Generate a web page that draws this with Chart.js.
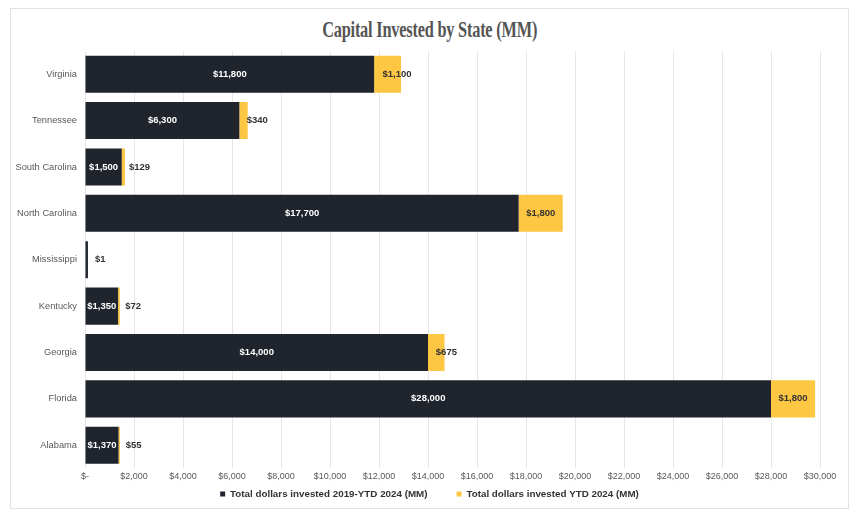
<!DOCTYPE html>
<html>
<head>
<meta charset="utf-8">
<script src="https://cdn.jsdelivr.net/npm/chart.js@4"></script>
<style>
  html, body { margin: 0; padding: 0; background: #fff; }
  #frame { position: absolute; left: 10px; top: 8px; width: 837px; height: 499px; border: 1px solid #e2e2e2; }
  #title { position: absolute; left: 0; top: 17px; width: 859px; text-align: center;
           font-family: "Liberation Serif", serif; font-weight: bold; font-size: 23px; color: #555;
           transform: scaleX(0.71); transform-origin: 430px 0; letter-spacing: -0.3px; }
  #wrap { position: absolute; left: 0; top: 0; width: 859px; height: 528px; }
</style>
</head>
<body>
<div id="frame"></div>
<div id="title">Capital Invested by State (MM)</div>
<div id="wrap"><canvas id="myChart"></canvas></div>
<script>
const states = ['Virginia', 'Tennessee', 'South Carolina', 'North Carolina', 'Mississippi', 'Kentucky', 'Georgia', 'Florida', 'Alabama'];
const total2019 = [11800, 6300, 1500, 17700, 120, 1350, 14000, 28000, 1370];
const ytd2024 = [1100, 340, 129, 1800, 1, 72, 675, 1800, 55];
const seriesNames = ['Total dollars invested 2019-YTD 2024 (MM)', 'Total dollars invested YTD 2024 (MM)'];

const DARK = '#1f242d';
const GOLD = '#fdc643';
const FONT = '"Liberation Sans", Arial, sans-serif';

function money(v) {
    return '$' + v.toLocaleString('en-US');
}

// draws the value labels like the excel chart did
const barLabels = {
    id: 'barLabels',
    afterDatasetsDraw(chart) {
        const ctx = chart.ctx;
        ctx.save();
        ctx.font = 'bold 9.5px ' + FONT;
        ctx.textBaseline = 'middle';
        chart.data.datasets.forEach((ds, di) => {
            const meta = chart.getDatasetMeta(di);
            meta.data.forEach((bar, i) => {
                const text = money(ds.data[i]);
                const w = ctx.measureText(text).width;
                const left = bar.base, right = bar.x;
                const segW = right - left;
                const mid = (left + right) / 2;
                if (di === 0) {
                    if (segW < w - 2) return;
                    ctx.fillStyle = '#fff';
                    ctx.textAlign = 'center';
                    ctx.fillText(text, mid, bar.y);
                } else {
                    ctx.fillStyle = '#333';
                    if (segW > w + 6) {
                        ctx.textAlign = 'center';
                        ctx.fillText(text, mid, bar.y);
                    } else {
                        // narrow segment: label pushed to the right
                        ctx.textAlign = 'left';
                        ctx.fillText(text, mid + 7 - 0.45 * segW, bar.y);
                    }
                }
            });
        });
        ctx.restore();
    }
};

const ctx = document.getElementById('myChart').getContext('2d');
new Chart(ctx, {
    type: 'bar',
    data: {
        labels: states,
        datasets: [
            { label: seriesNames[0], data: total2019, backgroundColor: DARK, barPercentage: 0.8, categoryPercentage: 1.0 },
            { label: seriesNames[1], data: ytd2024, backgroundColor: GOLD, barPercentage: 0.8, categoryPercentage: 1.0 },
        ],
    },
    options: {
        indexAxis: 'y',
        responsive: true,
        maintainAspectRatio: false,
        animation: false,
        layout: { padding: { top: 51, right: 0, bottom: 19, left: 0 } },
        scales: {
            x: {
                stacked: true,
                min: 0,
                max: 30000,
                grid: { color: '#e6e6e6', drawTicks: false },
                border: { display: false },
                afterFit: axis => { axis.paddingRight = 39; },
                ticks: {
                    stepSize: 2000,
                    padding: 3,
                    color: '#595959',
                    font: { family: FONT, size: 9 },
                    callback: v => v === 0 ? '$-' : money(v),
                },
            },
            y: {
                stacked: true,
                grid: { display: false, drawTicks: false },
                border: { display: false },
                afterFit: axis => { axis.width = 85; },
                ticks: {
                    padding: 8,
                    color: '#595959',
                    font: { family: FONT, size: 9.3 },
                },
            },
        },
        plugins: {
            legend: {
                position: 'bottom',
                labels: {
                    boxWidth: 5,
                    boxHeight: 5,
                    padding: 4,
                    color: '#333',
                    font: { family: FONT, size: 9.8, weight: 'bold' },
                    generateLabels: chart => {
                        const items = Chart.defaults.plugins.legend.labels.generateLabels(chart);
                        items[0].text += '\u2003\u2003  ';
                        return items;
                    },
                },
            },
            tooltip: { enabled: false },
        },
    },
    plugins: [barLabels],
});
</script>
</body>
</html>
